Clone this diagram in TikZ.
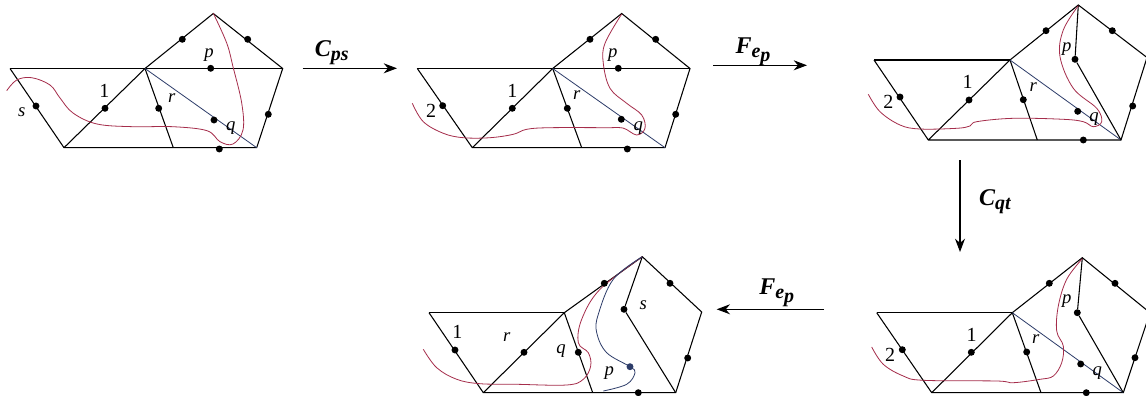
\documentclass[tikz,border=0pt]{standalone}
\usepackage{fontspec}
\setmainfont{Liberation Serif}
\usetikzlibrary{arrows.meta}
\definecolor{curvered}{RGB}{165,45,75}
\definecolor{slateedge}{RGB}{45,60,105}
\tikzset{
 edge/.style={line width=0.8pt,black},
 diag/.style={line width=0.6pt,slateedge},
 curve/.style={line width=0.6pt,curvered},
 bluecurve/.style={line width=0.6pt,slateedge},
 dot/.style={circle,fill=black,inner sep=0pt,minimum size=5.2pt},
 lbl/.style={inner sep=0pt,font=\fontsize{15}{15}\selectfont},
 ilbl/.style={inner sep=0pt,font=\fontsize{14}{14}\selectfont\itshape},
 op/.style={inner sep=0pt,font=\fontsize{18}{18}\selectfont\bfseries\itshape},
 flow/.style={line width=0.8pt,-{Stealth[length=10pt,width=7.5pt]}}
}
\newcommand{\sub}[1]{\raisebox{-3pt}{\fontsize{15}{15}\selectfont #1}}
\newcommand{\outline}[1]{%
 \draw[edge] (#1a)--(#1bl)--(#1br)--(#1rt)--(#1top)--(#1c)--(#1bl);
 \draw[edge] (#1c)--(#1ft);
}
\begin{document}
\begin{tikzpicture}[x=0.75pt,y=-0.75pt]
\useasboundingbox (0,0) rectangle (1146,396);
\fill[white] (0,0) rectangle (1146,396);
% panel A
\coordinate (Aa) at (10,68.5); \coordinate (Ac) at (145,68.5); \coordinate (Atop) at (213.3,13.5);
\coordinate (Art) at (282.7,68.5); \coordinate (Abr) at (256.7,147.7); \coordinate (Abl) at (64,147.7);
\coordinate (Aft) at (173.3,147.7);
\outline{A}
\draw[edge] (Aa)--(Art);
\draw[diag] (Ac)--(Abr);
\draw[curve] plot[smooth,tension=0.6] coordinates {(6.7,90.7)(16.7,80)(31.7,77.7)(50,85)(60,98)(73,113)(97,124)(133,126.7)(173,126.7)(207,130.7)(220,141.7)(233,144)(243,130)(241.7,103)(233,66.7)(226.7,43)(213.3,13.3)};
\foreach \n/\p in {1/{182.3,39.3},2/{247.7,39.3},3/{210.7,68.3},4/{36,106},5/{105,108.3},6/{158.7,108.3},7/{214,120},8/{268.3,114.3},9/{219.3,149}}
 \node[dot] (Ad\n) at (\p) {};
\node[ilbl] (Ap) at (209,55) {p}; \node[lbl] (A1) at (104.3,90.7) {1}; \node[ilbl] (As) at (21.7,111.7) {s};
\node[ilbl] (Ar) at (171.7,97.7) {r}; \node[ilbl] (Aq) at (230.7,128.3) {q};
% panel B
\coordinate (Ba) at (417.3,68.5); \coordinate (Bc) at (552.7,68.5); \coordinate (Btop) at (621.7,13.5);
\coordinate (Brt) at (690,68.5); \coordinate (Bbr) at (665,147.7); \coordinate (Bbl) at (472.3,147.7);
\coordinate (Bft) at (581.7,147.7);
\outline{B}
\draw[edge] (Ba)--(Brt);
\draw[diag] (Bc)--(Bbr);
\draw[curve] plot[smooth,tension=0.6] coordinates {(412.3,103.3)(423.3,121.7)(443.3,133.3)(463.3,137.7)(490,137.7)(513.3,134.3)(526.7,129.3)(550,127.7)(606.7,127.7)(623,128)(636.7,135)(645,128.3)(641.7,115)(626.7,103.3)(610,88.3)(603.3,63.3)(605,43.3)(621.7,14)};
\foreach \n/\p in {1/{590,39.3},2/{655.7,39.3},3/{618.3,68.3},4/{442.7,105.7},5/{512.3,108.3},6/{567.3,108.3},7/{621.3,119.3},8/{675.7,114.3},9/{627.3,149}}
 \node[dot] (Bd\n) at (\p) {};
\node[ilbl] (Bp) at (612.7,55) {p}; \node[lbl] (B1) at (512.3,90.7) {1}; \node[lbl] (B2) at (431,110.7) {2};
\node[ilbl] (Br) at (576.7,95) {r}; \node[ilbl] (Bq) at (638.3,128.3) {q};
% panel C
\coordinate (Ca) at (874,60); \coordinate (Cc) at (1010,60); \coordinate (Ctop) at (1078.3,5);
\coordinate (Crt) at (1147,57.5); \coordinate (Cbr) at (1121,140); \coordinate (Cbl) at (928.3,140);
\coordinate (Cft) at (1037.3,140);
\outline{C}
\draw[edge] (Ca)--(Cc);
\draw[diag] (Cc)--(Cbr);
\node[dot] (Cd3) at (1075,59.3) {};
\draw[edge] (Ctop)--(Cd3)--(Cbr);
\draw[curve] plot[smooth,tension=0.6] coordinates {(868.3,94.3)(880,111.7)(900,125)(920,129)(956.7,128.3)(970,126)(976.7,121.7)(1013.3,118.3)(1063.3,119.3)(1083.3,121.7)(1093.3,126.7)(1101.7,121.7)(1096.7,108.3)(1073.3,88.3)(1060,56.7)(1063.3,30)(1078.3,5.7)};
\foreach \n/\p in {1/{1046,30.7},2/{1112.3,30.7},4/{900,97},5/{969,100},6/{1023.3,99.7},7/{1077.7,111.3},8/{1132.7,106},9/{1083.3,140}}
 \node[dot] (Cd\n) at (\p) {};
\node[ilbl] (Cp) at (1066.7,49) {p}; \node[lbl] (C1) at (967.7,81.7) {1}; \node[lbl] (C2) at (888.3,101.7) {2};
\node[ilbl] (Cr) at (1033.3,86.7) {r}; \node[ilbl] (Cq) at (1094,119.3) {q};
% panel D (bottom right)
\coordinate (Da) at (876.7,312.7); \coordinate (Dc) at (1012.3,312.7); \coordinate (Dtop) at (1082.3,257.7);
\coordinate (Drt) at (1150,312.7); \coordinate (Dbr) at (1123.3,392.7); \coordinate (Dbl) at (931.7,392.7);
\coordinate (Dft) at (1041,392.7);
\outline{D}
\draw[edge] (Da)--(Dc);
\draw[diag] (Dc)--(Dbr);
\node[dot] (Dd3) at (1077.3,312.7) {};
\draw[edge] (Dtop)--(Dd3)--(Dbr);
\draw[curve] plot[smooth,tension=0.6] coordinates {(871.7,347)(883.3,364.3)(903.3,376)(923.3,380.3)(996.7,381)(1013.3,382.7)(1040,379.3)(1053.3,376)(1061.7,362.7)(1063.3,346)(1056.7,331)(1058.3,306)(1066.7,279.3)(1082.3,258.7)};
\foreach \n/\p in {1/{1049.3,283.3},2/{1115,283.3},4/{902.3,349.7},5/{971.3,352.3},6/{1026.7,352},7/{1080.7,364},8/{1135,357.7},9/{1086.3,392.7}}
 \node[dot] (Dd\n) at (\p) {};
\node[ilbl] (Dp) at (1066.7,301) {p}; \node[lbl] (D1) at (971.7,335) {1}; \node[lbl] (D2) at (890,355) {2};
\node[ilbl] (Dr) at (1035.7,339.3) {r}; \node[ilbl] (Dq) at (1097.3,373.3) {q};
% panel E (bottom middle)
\coordinate (Ea) at (429,312.7); \coordinate (Ec) at (564.3,312.7); \coordinate (Etop) at (642.3,256.7);
\coordinate (Ert) at (701.7,312); \coordinate (Ebr) at (675.7,392.7); \coordinate (Ebl) at (483.3,392.7);
\coordinate (Eft) at (592.7,392.7);
\outline{E}
\draw[edge] (Ea)--(Ec);
\node[dot] (Ed3) at (624,309.3) {};
\draw[edge] (Etop)--(Ed3)--(Ebr);
\draw[curve] plot[smooth,tension=0.6] coordinates {(423.3,349.3)(436.7,367.7)(456.7,379.3)(480,383.7)(516.7,384.3)(566.7,385)(583.3,379.3)(590.7,366)(588.3,352.7)(578.3,342.7)(581.7,319.3)(600,289.3)(642.3,256.7)};
\draw[bluecurve] plot[smooth,tension=0.6] coordinates {(642.3,256.7)(613.3,279.3)(598.3,314.3)(596.7,332.7)(606.7,352.7)(630,366.7)(635,372.7)(626.7,384.3)(603.3,391)};
\foreach \n/\p in {1/{604.3,283.3},2/{670,283.3},4/{455,350},5/{524,352.3},6/{578.3,352.3},8/{687.7,358},9/{638.3,392.7}}
 \node[dot] (Ed\n) at (\p) {};
\node[dot,fill=slateedge] (Ed7) at (630,366.7) {};
\node[lbl] (E1) at (457.3,332) {1}; \node[ilbl] (Er) at (506.7,336.7) {r}; \node[ilbl] (Eq) at (561,351) {q};
\node[ilbl] (Ep) at (609.3,373.3) {p}; \node[ilbl] (Es) at (643.3,305.3) {s};
% operations
\coordinate (f1a) at (302.7,68.3); \coordinate (f1b) at (397,68.3);
\coordinate (f2a) at (713.3,65.3); \coordinate (f2b) at (807,65.3);
\coordinate (f3a) at (960,160); \coordinate (f3b) at (960,252);
\coordinate (f4a) at (824,309.3); \coordinate (f4b) at (716.7,309.3);
\draw[flow] (f1a)--(f1b);
\draw[flow] (f2a)--(f2b);
\draw[flow] (f3a)--(f3b);
\draw[flow] (f4a)--(f4b);
\node[op] (o1) at (331.7,53) {C\sub{ps}};
\node[op] (o2) at (753,52) {F\sub{e\sub{p}}};
\node[op] (o3) at (995,202) {C\sub{qt}};
\node[op] (o4) at (776.7,292.7) {F\sub{e\sub{p}}};
\end{tikzpicture}
\end{document}
